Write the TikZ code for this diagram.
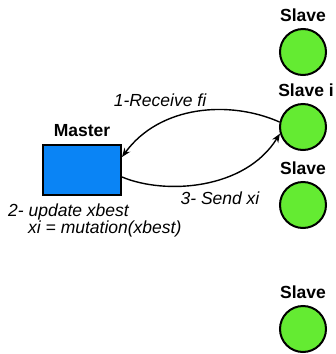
\documentclass[tikz,border=0pt]{standalone}
\usepackage{fontspec}
\setmainfont{Liberation Sans}
\usetikzlibrary{arrows.meta}
\definecolor{masterblue}{RGB}{10,132,245}
\definecolor{slavegreen}{RGB}{100,235,50}
\tikzset{
    slave/.style = {draw, circle, line width=2pt, fill=slavegreen, minimum size=46pt, inner sep=0pt},
    master/.style = {draw, rectangle, line width=2pt, fill=masterblue, minimum width=78pt, minimum height=50pt},
    msg/.style = {line width=1.4pt, -{Stealth[length=9pt,width=7pt]}},
    lbl/.style = {font=\fontsize{17.5}{17}\selectfont\itshape, inner sep=0pt}
}
\begin{document}
\begin{tikzpicture}[x=1pt, y=-1pt, font=\fontsize{17.5}{17}\selectfont]
        \useasboundingbox (0,0) rectangle (336,354);
        \draw
            (303, 52)  node (s1) [slave, label={[font=\bfseries\fontsize{17.5}{17}\selectfont, inner sep=0pt, label distance=6pt]above:Slave}] {}
            (303, 127) node (si) [slave, label={[font=\bfseries\fontsize{17.5}{17}\selectfont, inner sep=0pt, label distance=6pt, xshift=3pt]above:Slave i}] {}
            (303, 205) node (s2) [slave, label={[font=\bfseries\fontsize{17.5}{17}\selectfont, inner sep=0pt, label distance=6pt]above:Slave}] {}
            (303, 329) node (s3) [slave, label={[font=\bfseries\fontsize{17.5}{17}\selectfont, inner sep=0pt, label distance=6pt]above:Slave}] {}
            (82, 170)  node (m) [master, label={[font=\bfseries\fontsize{17.5}{17}\selectfont, inner sep=0pt, label distance=7pt]above:Master}] {}

            (160, 100) node (recv) [lbl] {1-Receive fi}
            (220, 198) node (send) [lbl] {3- Send xi}
            (8, 204)   node (upd) [lbl, anchor=north west, align=left] {2- update xbest\\\hspace{20pt}xi = mutation(xbest)};

        % messages between master and slave i
        \draw[msg] (si.168) .. controls (230, 100) and (160, 105) .. ([yshift=13pt]m.east);
        \draw[msg] ([yshift=-7pt]m.east) .. controls (165, 195) and (245, 190) .. (si.196);
    \end{tikzpicture}
\end{document}
